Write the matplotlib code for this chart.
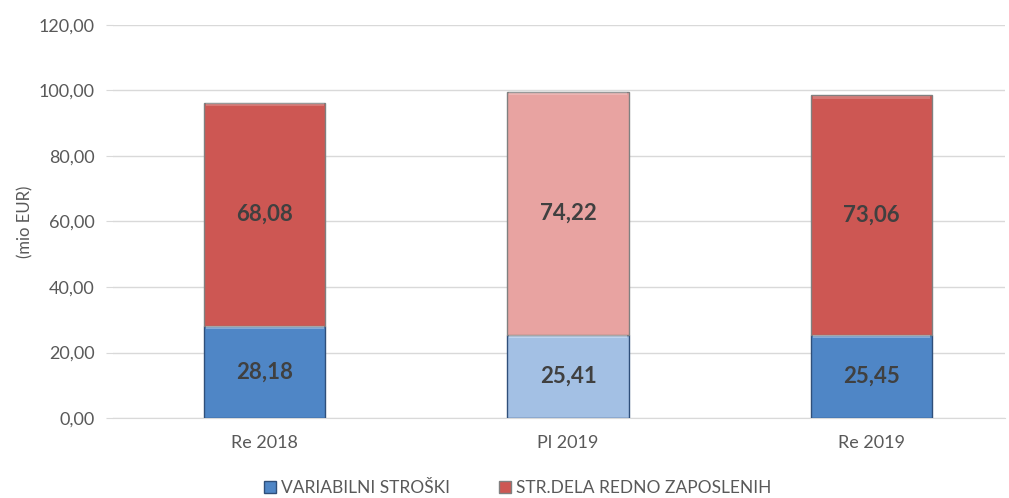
import matplotlib.pyplot as plt
import numpy as np

categories = ['Re 2018', 'Pl 2019', 'Re 2019']
variabilni = [28.18, 25.41, 25.45]
redno = [68.08, 74.22, 73.06]

blue = ['#4F86C6', '#A3C0E4', '#4F86C6']
red = ['#CD5753', '#E8A3A1', '#CD5753']

plt.rcParams['font.family'] = ['Lato', 'DejaVu Sans']

fig = plt.figure(figsize=(10.09, 4.98), dpi=100)
ax = fig.add_axes([113/1009, 80/498, 892/1009, 393/498])

x = np.arange(len(categories))
w = 0.40
b1 = ax.bar(x, variabilni, w, color=blue, edgecolor='#2F4F7A', linewidth=1.0,
            label='VARIABILNI STROŠKI', zorder=3)
b2 = ax.bar(x, redno, w, bottom=variabilni, color=red, edgecolor='#808080',
            linewidth=1.0, label='STR.DELA REDNO ZAPOSLENIH', zorder=3)

# light bevel at top of each segment
for i in range(len(x)):
    ax.bar(x[i], 1.0, w * 0.97, bottom=variabilni[i] - 1.1, color='white',
           alpha=0.3, linewidth=0, zorder=4)
    ax.bar(x[i], 1.0, w * 0.97, bottom=variabilni[i] + redno[i] - 1.1,
           color='white', alpha=0.2, linewidth=0, zorder=4)

for i in range(len(x)):
    ax.text(x[i], variabilni[i] / 2, f'{variabilni[i]:.2f}'.replace('.', ','),
            ha='center', va='center', fontsize=16, fontweight='bold',
            color='#404040', zorder=5)
    ax.text(x[i], variabilni[i] + redno[i] / 2,
            f'{redno[i]:.2f}'.replace('.', ','), ha='center', va='center',
            fontsize=16, fontweight='bold', color='#404040', zorder=5)

ax.set_ylim(0, 120)
ax.set_yticks(range(0, 121, 20))
ax.set_yticklabels([f'{v},00' for v in range(0, 121, 20)])
ax.set_xlim(-0.5, 2.44)
ax.set_xticks(x)
ax.set_xticklabels(categories)
ax.grid(axis='y', color='#D9D9D9', linewidth=1, zorder=0)
for s in ['top', 'right', 'left']:
    ax.spines[s].set_visible(False)
ax.spines['bottom'].set_color('#D9D9D9')
ax.tick_params(axis='y', length=5, color='#D9D9D9', labelsize=13,
               labelcolor='#595959', pad=8)
ax.tick_params(axis='x', length=0, labelsize=13, labelcolor='#595959', pad=12)
ax.set_ylabel('(mio EUR)', fontsize=12, color='#595959', labelpad=4)

ax.legend(handles=[b1, b2], loc='center', bbox_to_anchor=(0.454, -0.178),
          ncol=2, frameon=False, fontsize=12.5, handlelength=0.7,
          handleheight=0.7, columnspacing=2.8, handletextpad=0.3,
          labelcolor='#595959')

plt.savefig('out.png')
